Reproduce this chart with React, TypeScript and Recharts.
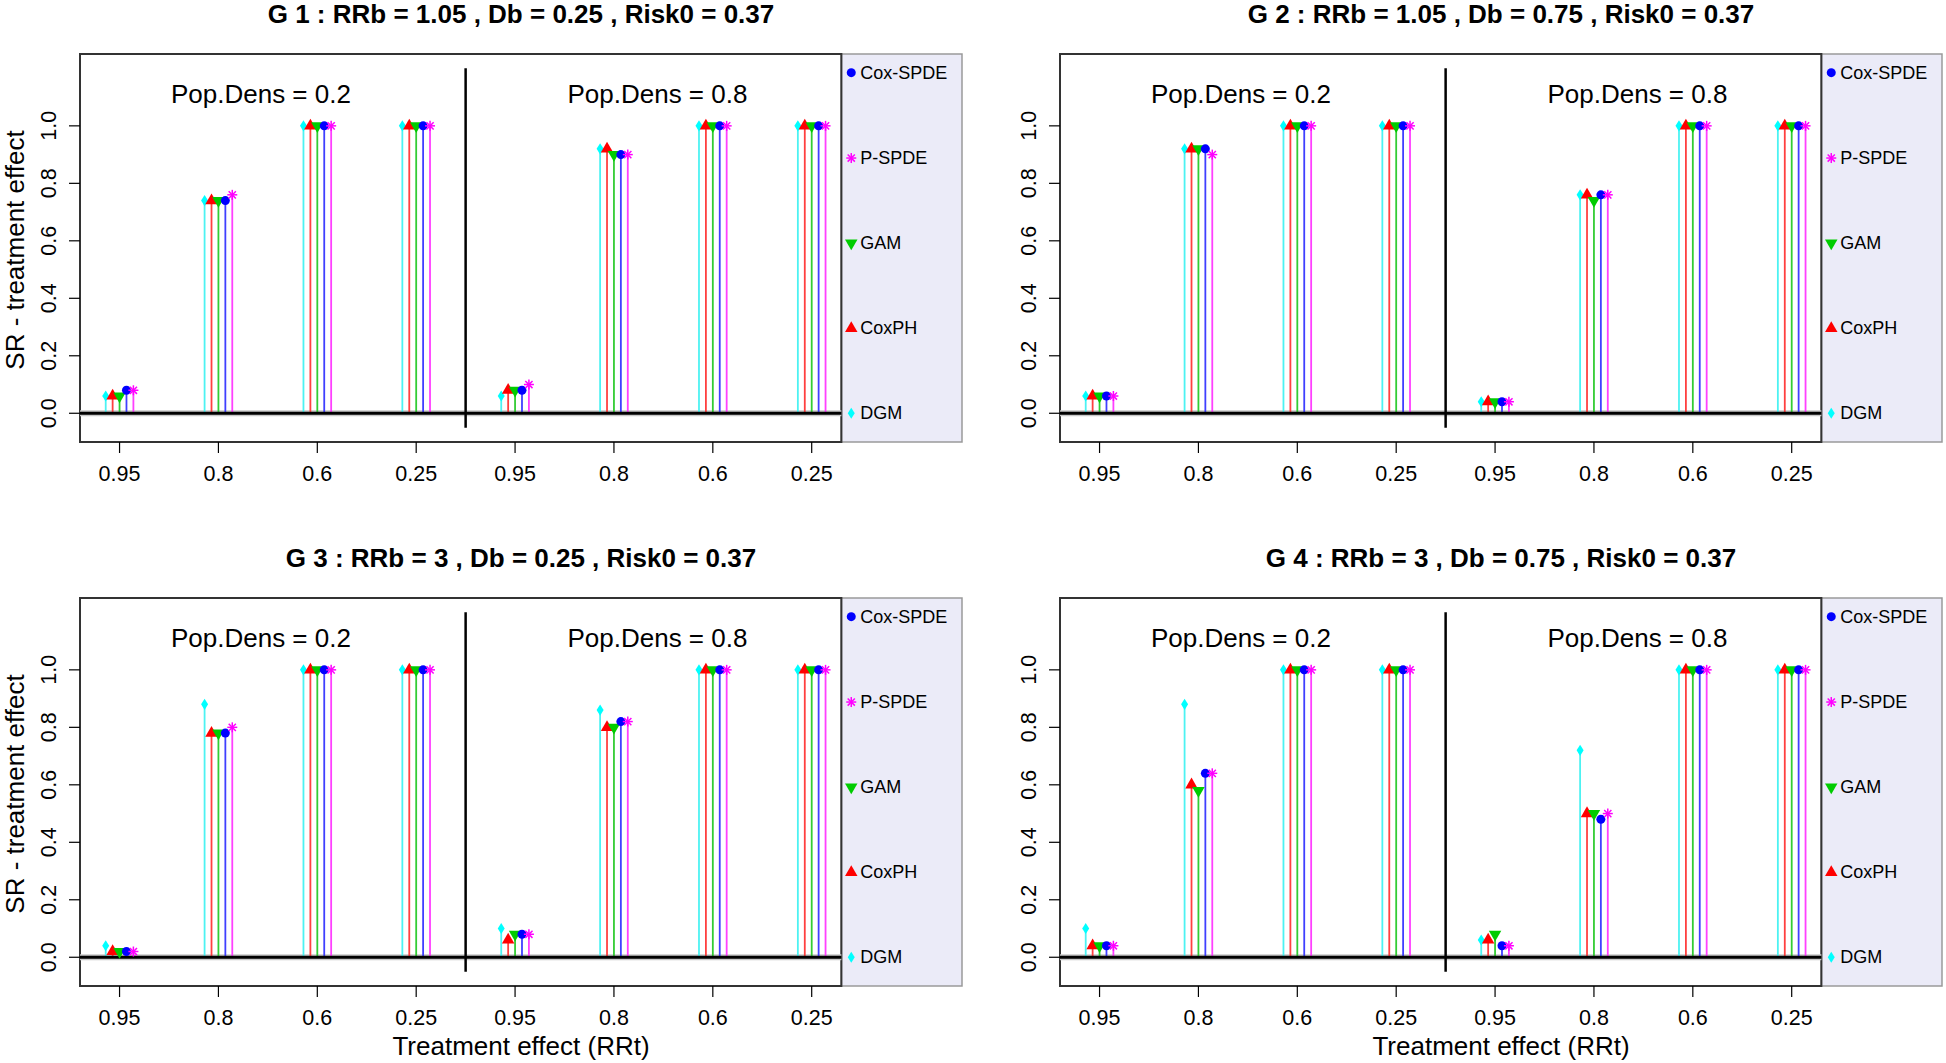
import React from "react";
import {
  ComposedChart,
  Scatter,
  ErrorBar,
  XAxis,
  YAxis,
  ReferenceLine,
  ReferenceArea,
  ReferenceDot,
} from "recharts";

// tick labels (RRt) for the 8 groups: 4 for Pop.Dens 0.2, 4 for Pop.Dens 0.8
const RRT_LABELS = ["0.95", "0.8", "0.6", "0.25", "0.95", "0.8", "0.6", "0.25"];
const X_TICKS = [1, 2, 3, 4, 5, 6, 7, 8];
const Y_TICKS = [0, 0.2, 0.4, 0.6, 0.8, 1.0];

const METHODS = ["DGM", "CoxPH", "GAM", "Cox-SPDE", "P-SPDE"];
const LEGEND_ORDER = ["Cox-SPDE", "P-SPDE", "GAM", "CoxPH", "DGM"];
const LEGEND_Y = [1.185, 0.888, 0.592, 0.295, 0.0];

const TITLES = [
  "G 1 : RRb = 1.05 , Db = 0.25 , Risk0 = 0.37",
  "G 2 : RRb = 1.05 , Db = 0.75 , Risk0 = 0.37",
  "G 3 : RRb = 3 , Db = 0.25 , Risk0 = 0.37",
  "G 4 : RRb = 3 , Db = 0.75 , Risk0 = 0.37",
];

// G1
const g1Dgm = [0.06, 0.74, 1, 1, 0.06, 0.92, 1, 1];
const g1CoxPH = [0.06, 0.74, 1, 1, 0.08, 0.92, 1, 1];
const g1Gam = [0.06, 0.74, 1, 1, 0.08, 0.9, 1, 1];
const g1CoxSpde = [0.08, 0.74, 1, 1, 0.08, 0.9, 1, 1];
const g1PSpde = [0.08, 0.76, 1, 1, 0.1, 0.9, 1, 1];

// G2
const g2Dgm = [0.06, 0.92, 1, 1, 0.04, 0.76, 1, 1];
const g2CoxPH = [0.06, 0.92, 1, 1, 0.04, 0.76, 1, 1];
const g2Gam = [0.06, 0.92, 1, 1, 0.04, 0.74, 1, 1];
const g2CoxSpde = [0.06, 0.92, 1, 1, 0.04, 0.76, 1, 1];
const g2PSpde = [0.06, 0.9, 1, 1, 0.04, 0.76, 1, 1];

// G3
const g3Dgm = [0.04, 0.88, 1, 1, 0.1, 0.86, 1, 1];
const g3CoxPH = [0.02, 0.78, 1, 1, 0.06, 0.8, 1, 1];
const g3Gam = [0.02, 0.78, 1, 1, 0.08, 0.8, 1, 1];
const g3CoxSpde = [0.02, 0.78, 1, 1, 0.08, 0.82, 1, 1];
const g3PSpde = [0.02, 0.8, 1, 1, 0.08, 0.82, 1, 1];

// G4
const g4Dgm = [0.1, 0.88, 1, 1, 0.06, 0.72, 1, 1];
const g4CoxPH = [0.04, 0.6, 1, 1, 0.06, 0.5, 1, 1];
const g4Gam = [0.04, 0.58, 1, 1, 0.08, 0.5, 1, 1];
const g4CoxSpde = [0.04, 0.64, 1, 1, 0.04, 0.48, 1, 1];
const g4PSpde = [0.04, 0.64, 1, 1, 0.04, 0.5, 1, 1];

const PANELS = [
  [g1Dgm, g1CoxPH, g1Gam, g1CoxSpde, g1PSpde],
  [g2Dgm, g2CoxPH, g2Gam, g2CoxSpde, g2PSpde],
  [g3Dgm, g3CoxPH, g3Gam, g3CoxSpde, g3PSpde],
  [g4Dgm, g4CoxPH, g4Gam, g4CoxSpde, g4PSpde],
];

const STYLE: Record<string, { kind: string; fill: string; stem: string; dx: number }> = {
  DGM: { kind: "diamond", fill: "#00FFFF", stem: "#4DF2F2", dx: -0.14 },
  CoxPH: { kind: "up", fill: "#FF0000", stem: "#FF4040", dx: -0.07 },
  GAM: { kind: "down", fill: "#00CC00", stem: "#33CC33", dx: 0 },
  "Cox-SPDE": { kind: "circle", fill: "#0000FF", stem: "#4040FF", dx: 0.07 },
  "P-SPDE": { kind: "star", fill: "#FF00FF", stem: "#FF40FF", dx: 0.14 },
};

const W = 966;
const H = 519;
const FONT = "'Liberation Sans', Arial, Helvetica, sans-serif";

function Marker({ kind, cx, cy, color }: any) {
  const r = 7.2;
  if (kind === "diamond")
    return (
      <polygon
        points={`${cx},${cy - 5.6} ${cx + 3.5},${cy} ${cx},${cy + 5.6} ${cx - 3.5},${cy}`}
        fill={color}
      />
    );
  if (kind === "up")
    return (
      <polygon
        points={`${cx},${cy - r} ${cx + r * 0.866},${cy + r / 2} ${cx - r * 0.866},${cy + r / 2}`}
        fill={color}
      />
    );
  if (kind === "down")
    return (
      <polygon
        points={`${cx},${cy + r} ${cx + r * 0.866},${cy - r / 2} ${cx - r * 0.866},${cy - r / 2}`}
        fill={color}
      />
    );
  if (kind === "circle") return <circle cx={cx} cy={cy} r={4.5} fill={color} />;
  const a = 5;
  const d = 3.6;
  return (
    <g stroke={color} strokeWidth={1.5}>
      <line x1={cx - a} y1={cy} x2={cx + a} y2={cy} />
      <line x1={cx} y1={cy - a} x2={cx} y2={cy + a} />
      <line x1={cx - d} y1={cy - d} x2={cx + d} y2={cy + d} />
      <line x1={cx - d} y1={cy + d} x2={cx + d} y2={cy - d} />
    </g>
  );
}

const YTick = (props: any) => {
  const { x, y, payload } = props;
  return (
    <text
      x={x}
      y={y}
      transform={`rotate(-90 ${x} ${y})`}
      textAnchor="middle"
      fontSize={21.5}
      fill="#000"
    >
      {Number(payload.value).toFixed(1)}
    </text>
  );
};

const XTick = (props: any) => {
  const { x, y, payload } = props;
  return (
    <text x={x} y={y + 16} textAnchor="middle" fontSize={21.5} fill="#000">
      {RRT_LABELS[payload.value - 1]}
    </text>
  );
};

const popText = (label: string) => (props: any) => (
  <text
    x={props.cx}
    y={props.cy}
    textAnchor="middle"
    dominantBaseline="central"
    fontSize={26}
    fill="#000"
  >
    {label}
  </text>
);

const LegendItem = (props: any) => {
  const { cx, cy, payload } = props;
  const s = STYLE[payload.method];
  return (
    <g>
      <Marker kind={s.kind} cx={cx} cy={cy} color={s.fill} />
      <text x={cx + 9} y={cy} dominantBaseline="central" fontSize={18} fill="#000">
        {payload.method}
      </text>
    </g>
  );
};

function Panel({ index, left, top }: { index: number; left: number; top: number }) {
  const series = PANELS[index];
  const showXLabel = index >= 2;
  const showYLabel = index % 2 === 0;
  const legendData = LEGEND_ORDER.map((m, i) => ({ x: 8.4, y: LEGEND_Y[i], method: m }));

  return (
    <div style={{ position: "absolute", left, top, width: W, height: H }}>
      <ComposedChart width={W} height={H} margin={{ top: 54, left: 40, right: 4, bottom: 37 }}>
        <XAxis
          type="number"
          dataKey="x"
          domain={[0.6, 9.52]}
          allowDataOverflow
          ticks={X_TICKS}
          interval={0}
          axisLine={false}
          tickLine={{ stroke: "#000", strokeWidth: 1.2 }}
          tickSize={11}
          tickMargin={12}
          height={40}
          tick={<XTick />}
        />
        <YAxis
          type="number"
          dataKey="y"
          domain={[-0.1, 1.25]}
          allowDataOverflow
          ticks={Y_TICKS}
          interval={0}
          axisLine={false}
          tickLine={{ stroke: "#000", strokeWidth: 1.2 }}
          tickSize={11}
          tickMargin={13}
          width={40}
          tick={<YTick />}
        />
        <ReferenceArea
          x1={8.3}
          x2={9.52}
          y1={-0.1}
          y2={1.25}
          fill="#EBEBF8"
          fillOpacity={1}
          stroke="#9A9A9A"
          strokeWidth={1.5}
        />
        <ReferenceArea
          x1={0.6}
          x2={8.3}
          y1={-0.1}
          y2={1.25}
          fill="none"
          fillOpacity={0}
          stroke="#333"
          strokeWidth={2}
        />
        <ReferenceLine
          segment={[
            { x: 0.6, y: 0 },
            { x: 8.3, y: 0 },
          ]}
          stroke="#C8C8C8"
          strokeWidth={6}
        />
        <ReferenceLine
          segment={[
            { x: 4.5, y: -0.05 },
            { x: 4.5, y: 1.2 },
          ]}
          stroke="#000"
          strokeWidth={2.5}
        />
        {METHODS.map((m, mi) => {
          const s = STYLE[m];
          const data = series[mi].map((v, gi) => ({ x: X_TICKS[gi] + s.dx, y: v, err: [v, 0] }));
          return (
            <Scatter
              key={m}
              name={m}
              data={data}
              isAnimationActive={false}
              shape={(p: any) => <Marker kind={s.kind} cx={p.cx} cy={p.cy} color={s.fill} />}
            >
              <ErrorBar
                dataKey="err"
                direction="y"
                width={0}
                stroke={s.stem}
                strokeWidth={1.8}
                isAnimationActive={false}
              />
            </Scatter>
          );
        })}
        <ReferenceLine
          segment={[
            { x: 0.6, y: 0 },
            { x: 8.3, y: 0 },
          ]}
          stroke="#000"
          strokeWidth={2.8}
        />
        <Scatter
          name="legend"
          data={legendData}
          isAnimationActive={false}
          shape={LegendItem}
        />
        <ReferenceDot x={2.43} y={1.11} r={0} shape={popText("Pop.Dens = 0.2")} />
        <ReferenceDot x={6.44} y={1.11} r={0} shape={popText("Pop.Dens = 0.8")} />
      </ComposedChart>

      <div
        style={{
          position: "absolute",
          left: 80,
          top: 1,
          width: 882,
          textAlign: "center",
          fontSize: 26,
          lineHeight: "26px",
          fontWeight: "bold",
          whiteSpace: "nowrap",
        }}
      >
        {TITLES[index]}
      </div>
      {showYLabel && (
        <div
          style={{
            position: "absolute",
            left: 15 - 194,
            top: 250 - 13,
            width: 388,
            height: 26,
            lineHeight: "26px",
            fontSize: 26,
            textAlign: "center",
            whiteSpace: "nowrap",
            transform: "rotate(-90deg)",
          }}
        >
          SR - treatment effect
        </div>
      )}
      {showXLabel && (
        <div
          style={{
            position: "absolute",
            left: 80,
            top: 489,
            width: 882,
            textAlign: "center",
            fontSize: 26,
            lineHeight: "26px",
            whiteSpace: "nowrap",
          }}
        >
          Treatment effect (RRt)
        </div>
      )}
    </div>
  );
}

export default function App() {
  return (
    <div
      style={{
        position: "absolute",
        left: 0,
        top: 0,
        width: 1946,
        height: 1063,
        background: "#fff",
        overflow: "hidden",
        fontFamily: FONT,
        color: "#000",
      }}
    >
      <Panel index={0} left={0} top={0} />
      <Panel index={1} left={980} top={0} />
      <Panel index={2} left={0} top={544} />
      <Panel index={3} left={980} top={544} />
    </div>
  );
}
